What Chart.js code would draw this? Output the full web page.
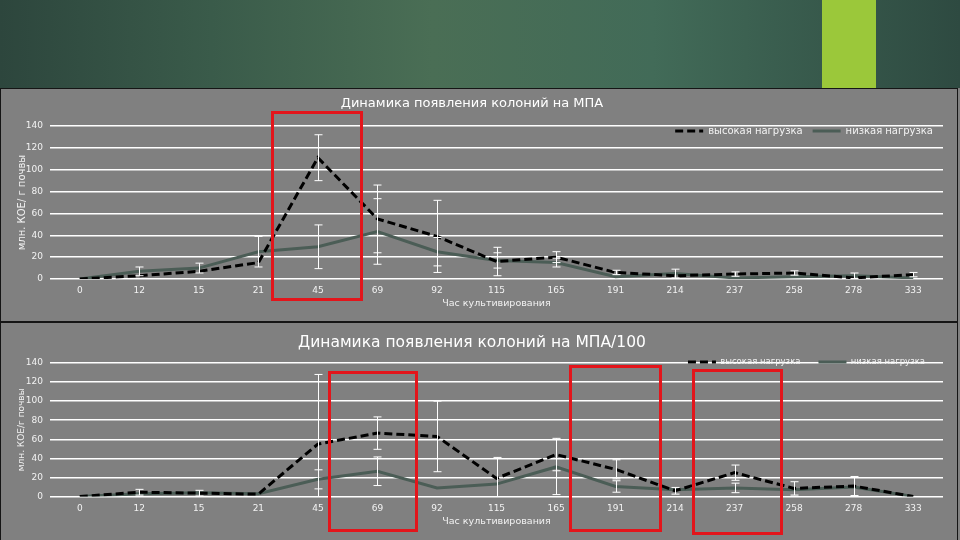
<!DOCTYPE html>
<html>
<head>
<meta charset="utf-8">
<script src="https://cdn.jsdelivr.net/npm/chart.js@4.4.0/dist/chart.umd.min.js"></script>
<style>
body { margin: 0; width: 960px; height: 540px; overflow: hidden; background: #808080; position: relative; }
#slideTop { position: absolute; left: 0; top: 0; width: 960px; height: 88px;
  background: linear-gradient(90deg, #2d463d 0%, #3a5b4a 22%, #4a6e55 45%, #426b58 68%, #2e4a41 100%); }
#stripe { position: absolute; left: 822px; top: 0; width: 54px; height: 88px; background: #9bc83a; }
.panel { position: absolute; left: 0; width: 956px; background: #808080; border: 1px solid #151515; }
#panel1 { top: 88px; height: 232px; }
#panel2 { top: 322px; height: 220px; }
canvas { display: block; }
.mark { position: absolute; border: 3px solid #e3151b; box-sizing: border-box; }
</style>
</head>
<body>
<div id="slideTop"></div>
<div id="stripe"></div>
<div class="panel" id="panel1"><canvas id="chart1" width="956" height="232"></canvas></div>
<div class="panel" id="panel2"><canvas id="chart2" width="956" height="217"></canvas></div>
<div class="mark" style="left:271px;top:111px;width:92px;height:190px"></div>
<div class="mark" style="left:328px;top:371px;width:90px;height:161px"></div>
<div class="mark" style="left:569px;top:365px;width:93px;height:167px"></div>
<div class="mark" style="left:692px;top:369px;width:91px;height:166px"></div>
<script>
// hours of cultivation (category axis)
const hours = ['0', '12', '15', '21', '45', '69', '92', '115', '165', '191', '214', '237', '258', '278', '333'];
const seriesNames = ['высокая нагрузка', 'низкая нагрузка'];
const yMin = 0, yMax = 140, yStep = 20;

// chart 1 - МПА
const high1 = [0, 3, 7, 15, 111, 55, 39, 16, 20, 6, 3, 4.5, 5.5, 1, 4];
const low1 = [0, 7, 10, 25, 29.5, 43.5, 25, 17, 15, 2, 5, 1, 2, 3, 1];
const errHigh1 = [0, 0, 0, 0, 21, 31, 33, 13, 5, 2, 0, 2, 2, 0, 2];
const errLow1 = [0, 4, 4.5, 14, 20, 30, 13, 7, 4, 0, 4, 0, 0, 2.5, 0];

// chart 2 - МПА/100
const high2 = [0, 4.5, 3.5, 2.5, 55, 66.5, 63, 19, 44, 28.5, 6, 25, 8.5, 11, 0];
const low2 = [0, 3, 4, 3, 18, 26.5, 9, 13, 31, 10.5, 7, 9, 7, 10, 0];
const errHigh2 = [0, 3, 3, 0, 73, 17, 37, 22, 17, 10, 3.5, 8, 7, 10, 0];
const errLow2 = [0, 0, 0, 0, 10, 15, 0, 0, 29, 6, 0, 5, 0, 0, 0];

Chart.defaults.font.family = '"DejaVu Sans", sans-serif';
const textColor = '#f2f2f2';

// white error bars with caps, drawn from each dataset's errors array
const errorBars = {
    id: 'errorBars',
    afterDatasetsDraw(chart) {
        const ctx = chart.ctx;
        const a = chart.chartArea;
        const y = chart.scales.y;
        ctx.save();
        ctx.beginPath();
        ctx.rect(a.left, a.top - 2, a.width, a.height + 2);
        ctx.clip();
        ctx.strokeStyle = '#ffffff';
        ctx.lineWidth = 1;
        chart.data.datasets.forEach((ds, di) => {
            const meta = chart.getDatasetMeta(di);
            ds.errors.forEach((e, i) => {
                if (!e) return;
                const x = Math.round(meta.data[i].x) + 0.5;
                const yt = y.getPixelForValue(ds.data[i] + e);
                const yb = y.getPixelForValue(ds.data[i] - e);
                ctx.beginPath();
                ctx.moveTo(x, yt); ctx.lineTo(x, yb);
                ctx.moveTo(x - 4, yt); ctx.lineTo(x + 4, yt);
                ctx.moveTo(x - 4, yb); ctx.lineTo(x + 4, yb);
                ctx.stroke();
            });
        });
        ctx.restore();
    }
};

// the legend takes (almost) no layout room; put it inside the plot, top right
function legendShift(dy) {
    return {
        id: 'legendShift',
        afterLayout(chart) {
            const lg = chart.legend;
            lg.top = chart.chartArea.top + dy;
            lg.height = 30;
            lg.bottom = lg.top + lg.height;
        }
    };
}

// point-style legend items lose the dataset dash, put it back
function dashedLabels(chart) {
    const items = Chart.defaults.plugins.legend.labels.generateLabels(chart);
    items.forEach(it => {
        const ds = chart.data.datasets[it.datasetIndex];
        it.lineDash = ds.borderDash || [];
        it.lineWidth = ds.borderWidth;
    });
    return items;
}

function buildChart(id, cfg) {
    return new Chart(document.getElementById(id), {
        type: 'line',
        data: {
            labels: hours,
            datasets: [{
                label: seriesNames[0],
                data: cfg.high,
                errors: cfg.errHigh,
                borderColor: '#000000',
                backgroundColor: '#000000',
                borderWidth: 3,
                borderDash: [8, 4],
                pointRadius: 0,
                tension: 0,
                fill: false
            }, {
                label: seriesNames[1],
                data: cfg.low,
                errors: cfg.errLow,
                borderColor: '#4b5d56',
                backgroundColor: '#4b5d56',
                borderWidth: 3,
                pointRadius: 0,
                tension: 0,
                fill: false
            }]
        },
        options: {
            responsive: false,
            animation: false,
            layout: { padding: { left: 0, right: 14, top: 0, bottom: 0 } },
            plugins: {
                title: {
                    display: true,
                    text: cfg.title,
                    color: '#ffffff',
                    font: { size: cfg.titleSize, weight: 'normal' },
                    padding: cfg.titlePad
                },
                legend: {
                    position: 'top',
                    align: 'end',
                    fullSize: false,
                    maxHeight: 0.01,
                    labels: {
                        usePointStyle: true,
                        pointStyle: 'line',
                        // 28px keeps the 8/4 dash pattern visible in the sample
                        pointStyleWidth: 28,
                        color: textColor,
                        font: { size: cfg.legendSize },
                        padding: cfg.legendGap,
                        generateLabels: dashedLabels
                    }
                },
                tooltip: { enabled: false }
            },
            scales: {
                x: {
                    offset: true,
                    grid: { display: false, drawTicks: false },
                    border: { display: false },
                    ticks: { color: textColor, font: { size: 9 }, padding: cfg.xTickPad, maxRotation: 0, autoSkip: false },
                    title: {
                        display: true,
                        text: 'Час культивирования',
                        color: textColor,
                        font: { size: 9.5 },
                        padding: { top: 0, bottom: cfg.xTitlePad }
                    },
                    afterFit: s => { s.height = cfg.xHeight; }
                },
                y: {
                    min: yMin,
                    max: yMax,
                    ticks: { stepSize: yStep, color: textColor, font: { size: 9 }, padding: 7 },
                    grid: { color: '#ffffff', lineWidth: 1.5, drawTicks: false },
                    border: { display: false },
                    title: {
                        display: true,
                        text: cfg.yTitle,
                        color: textColor,
                        font: { size: cfg.yTitleSize },
                        padding: { top: 15, bottom: 0 }
                    },
                    afterFit: s => { s.width = 49; }
                }
            }
        },
        plugins: [errorBars, legendShift(cfg.legendDy)]
    });
}

buildChart('chart1', {
    title: 'Динамика появления колоний на МПА',
    titleSize: 13,
    titlePad: { top: 7, bottom: 14.4 },
    yTitle: 'млн. КОЕ/ г почвы',
    yTitleSize: 10,
    high: high1, low: low1, errHigh: errHigh1, errLow: errLow1,
    legendSize: 10, legendGap: 10, legendDy: -10,
    xHeight: 42, xTickPad: 6, xTitlePad: 12
});

buildChart('chart2', {
    title: 'Динамика появления колоний на МПА/100',
    titleSize: 15.5,
    titlePad: { top: 11, bottom: 10.4 },
    yTitle: 'млн. КОЕ/г почвы',
    yTitleSize: 9,
    high: high2, low: low2, errHigh: errHigh2, errLow: errLow2,
    legendSize: 8.5, legendGap: 18, legendDy: -23.3,
    xHeight: 43.5, xTickPad: 6.5, xTitlePad: 13
});
</script>
</body>
</html>
